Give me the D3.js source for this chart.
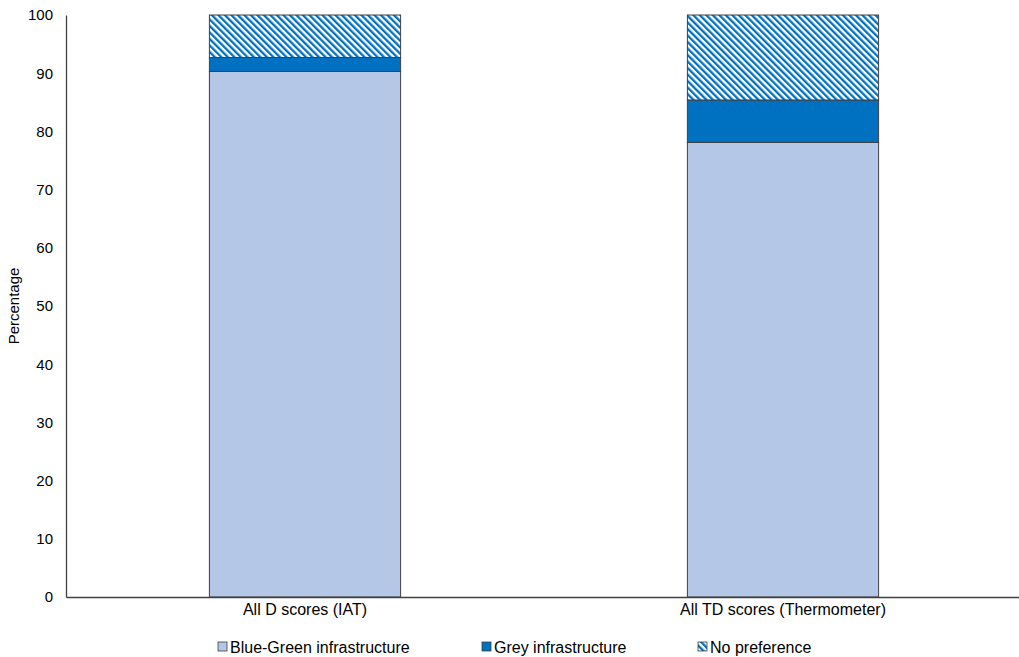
<!DOCTYPE html>
<html>
<head>
<meta charset="utf-8">
<script src="https://cdn.jsdelivr.net/npm/d3@7"></script>
<style>
  html, body { margin: 0; padding: 0; background: #fff; }
  svg { display: block; font-family: "Liberation Sans", Arial, sans-serif; }
</style>
</head>
<body>
<svg id="chart" width="1019" height="657"></svg>
<script>
// Share of respondents by implicit preference, per measure
const categories = ["All D scores (IAT)", "All TD scores (Thermometer)"];
const seriesNames = ["Blue-Green infrastructure", "Grey infrastructure", "No preference"];
const blueGreen = [90.3, 78.1];
const grey = [2.4, 7.3];
const noPreference = [7.3, 14.6];
const yTicks = [0, 10, 20, 30, 40, 50, 60, 70, 80, 90, 100];

const svg = d3.select("#chart");
const margin = { left: 66, top: 15, bottom: 60 };
const W = 1019, H = 657;

// Hatched fill for "No preference" (downward diagonal)
const defs = svg.append("defs");
const pat = defs.append("pattern")
  .attr("id", "hatch")
  .attr("patternUnits", "userSpaceOnUse")
  .attr("width", 4.6).attr("height", 4.6)
  .attr("patternTransform", "rotate(-45)");
pat.append("rect").attr("width", 4.6).attr("height", 4.6).attr("fill", "#fff");
pat.append("rect").attr("x", 0).attr("y", 0).attr("width", 2.3).attr("height", 4.6).attr("fill", "#0070C0");

const fills = ["#B4C7E7", "#0070C0", "url(#hatch)"];

const x = d3.scaleBand()
  .domain(categories)
  .range([margin.left, 1022])
  .paddingInner(0.6)
  .paddingOuter(0.3);

const y = d3.scaleLinear()
  .domain([0, 100])
  .range([H - margin.bottom, margin.top]);

const rows = categories.map((c, i) => ({
  category: c,
  [seriesNames[0]]: blueGreen[i],
  [seriesNames[1]]: grey[i],
  [seriesNames[2]]: noPreference[i]
}));
const stacked = d3.stack().keys(seriesNames)(rows);

// Bars
svg.append("g").selectAll("g")
  .data(stacked)
  .join("g")
  .attr("fill", (d, i) => fills[i])
  .selectAll("rect")
  .data(d => d)
  .join("rect")
  .attr("x", d => x(d.data.category))
  .attr("width", x.bandwidth())
  .attr("y", d => y(d[1]))
  .attr("height", d => y(d[0]) - y(d[1]))
  .attr("stroke", "#404040")
  .attr("stroke-width", 1);

const fontFamily = "'Liberation Sans', Arial, sans-serif";

// Y axis
const yAxis = svg.append("g")
  .attr("transform", `translate(${margin.left},0)`)
  .call(d3.axisLeft(y).tickValues(yTicks).tickSize(0).tickPadding(13));
yAxis.select(".domain").attr("stroke", "#404040").attr("stroke-width", 1.3);
yAxis.selectAll("text").attr("font-size", 15).attr("fill", "#000").style("font-family", fontFamily);

// X axis
const xAxis = svg.append("g")
  .attr("transform", `translate(0,${y(0)})`)
  .call(d3.axisBottom(x).tickSize(0).tickPadding(7));
xAxis.select(".domain").attr("stroke", "#404040").attr("stroke-width", 1.3);
xAxis.selectAll("text").attr("font-size", 16).attr("fill", "#000").style("font-family", fontFamily);

// Y axis title
svg.append("text")
  .attr("transform", `translate(19,${(y(0) + y(100)) / 2}) rotate(-90)`)
  .attr("text-anchor", "middle")
  .attr("font-size", 15)
  .attr("fill", "#000")
  .text("Percentage");

// Legend
const legendX = [218, 482, 698];
const legend = svg.append("g");
seriesNames.forEach((name, i) => {
  const g = legend.append("g").attr("transform", `translate(${legendX[i]},647)`);
  g.append("rect").attr("x", 0).attr("y", -5).attr("width", 9).attr("height", 9)
    .attr("fill", fills[i]).attr("stroke", "#404040").attr("stroke-width", 0.8);
  g.append("text").attr("x", 12).attr("y", 5.5).attr("font-size", 16).attr("fill", "#000").text(name);
});
</script>
</body>
</html>
